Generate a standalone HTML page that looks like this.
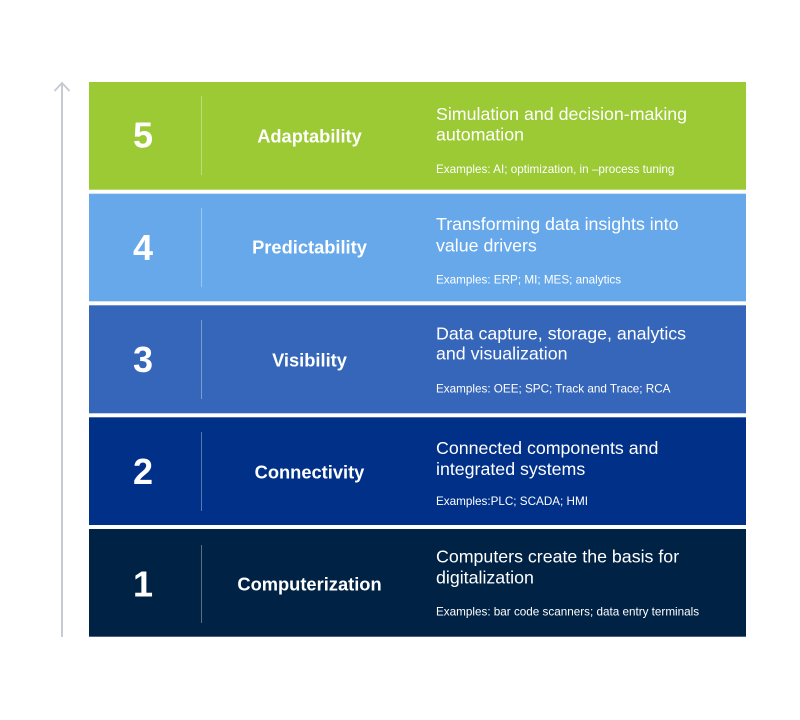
<!DOCTYPE html>
<html>
<head>
<meta charset="utf-8">
<style>
  html, body { margin: 0; padding: 0; background: #ffffff; }
  body { width: 800px; height: 720px; overflow: hidden; }
  svg { display: block; }
  text { font-family: "Liberation Sans", Arial, sans-serif; fill: #ffffff; }
  .num { font-size: 36px; font-weight: bold; }
  .lbl { font-size: 18.3px; font-weight: bold; }
  .desc { font-size: 17.8px; }
  .ex { font-size: 11.7px; }
</style>
</head>
<body>
<svg width="800" height="720" viewBox="0 0 800 720" xmlns="http://www.w3.org/2000/svg">
  <!-- arrow -->
  <line x1="62" y1="83" x2="62" y2="637" stroke="#C6CAD3" stroke-width="2"/>
  <polyline points="54.5,91 62,83 69.5,91" fill="none" stroke="#C6CAD3" stroke-width="1.8"/>

  <!-- Band 5 -->
  <rect x="89" y="82" width="657" height="107.7" fill="#9BCA35"/>
  <line x1="201.5" y1="96" x2="201.5" y2="175" stroke="rgba(255,255,255,0.35)" stroke-width="1"/>
  <text class="num" x="143" y="147.5" text-anchor="middle">5</text>
  <text class="lbl" x="309.5" y="142.3" text-anchor="middle">Adaptability</text>
  <text class="desc" x="436" y="120">Simulation and decision-making</text>
  <text class="desc" x="436" y="140.5">automation</text>
  <text class="ex" x="436" y="173">Examples: AI; optimization, in –process tuning</text>

  <!-- Band 4 -->
  <rect x="89" y="193.7" width="657" height="107.6" fill="#66A8EA"/>
  <line x1="201.5" y1="208" x2="201.5" y2="287" stroke="rgba(255,255,255,0.35)" stroke-width="1"/>
  <text class="num" x="143" y="260" text-anchor="middle">4</text>
  <text class="lbl" x="309.5" y="253.5" text-anchor="middle">Predictability</text>
  <text class="desc" x="436" y="230">Transforming data insights into</text>
  <text class="desc" x="436" y="251.5">value drivers</text>
  <text class="ex" x="436" y="283.5">Examples: ERP; MI; MES; analytics</text>

  <!-- Band 3 -->
  <rect x="89" y="305.3" width="657" height="108" fill="#3566BA"/>
  <line x1="201.5" y1="320" x2="201.5" y2="399" stroke="rgba(255,255,255,0.35)" stroke-width="1"/>
  <text class="num" x="143" y="372" text-anchor="middle">3</text>
  <text class="lbl" x="309.5" y="366.7" text-anchor="middle">Visibility</text>
  <text class="desc" x="436" y="339.3">Data capture, storage, analytics</text>
  <text class="desc" x="436" y="359.5">and visualization</text>
  <text class="ex" x="436" y="392.7">Examples: OEE; SPC; Track and Trace; RCA</text>

  <!-- Band 2 -->
  <rect x="89" y="417.3" width="657" height="107.7" fill="#003087"/>
  <line x1="201.5" y1="432" x2="201.5" y2="511" stroke="rgba(255,255,255,0.35)" stroke-width="1"/>
  <text class="num" x="143" y="484" text-anchor="middle">2</text>
  <text class="lbl" x="309.5" y="478.5" text-anchor="middle">Connectivity</text>
  <text class="desc" x="436" y="454">Connected components and</text>
  <text class="desc" x="436" y="475">integrated systems</text>
  <text class="ex" x="436" y="505">Examples:PLC; SCADA; HMI</text>

  <!-- Band 1 -->
  <rect x="89" y="529" width="657" height="107.7" fill="#002244"/>
  <line x1="201.5" y1="545" x2="201.5" y2="623" stroke="rgba(255,255,255,0.35)" stroke-width="1"/>
  <text class="num" x="143" y="596.5" text-anchor="middle">1</text>
  <text class="lbl" x="309.5" y="590.5" text-anchor="middle">Computerization</text>
  <text class="desc" x="436" y="562.5">Computers create the basis for</text>
  <text class="desc" x="436" y="583.3">digitalization</text>
  <text class="ex" x="436" y="615.5">Examples: bar code scanners; data entry terminals</text>
</svg>
</body>
</html>
